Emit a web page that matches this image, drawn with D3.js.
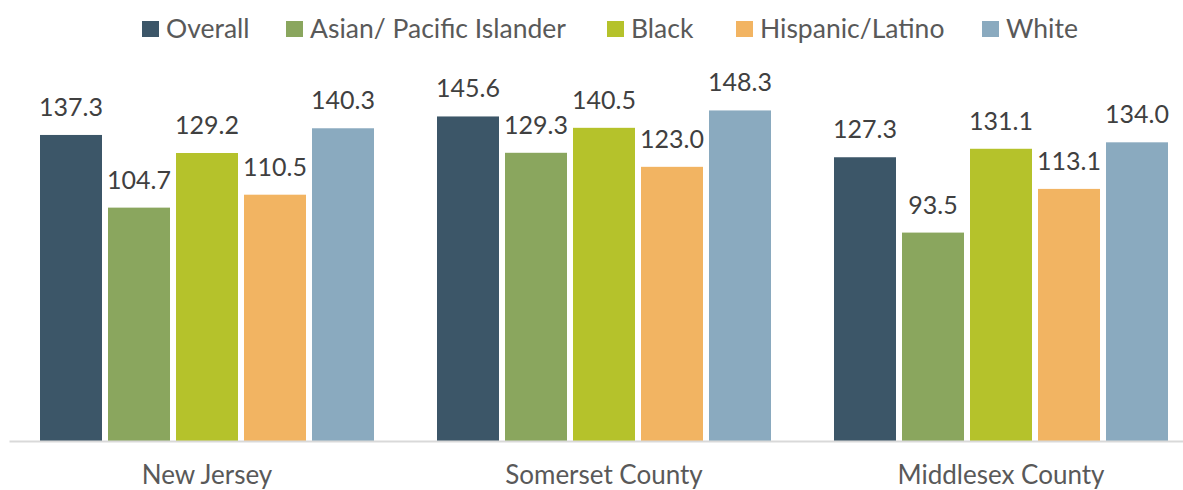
<!DOCTYPE html>
<html>
<head>
<meta charset="utf-8">
<script src="https://cdn.jsdelivr.net/npm/d3@7"></script>
<style>
  html, body { margin: 0; padding: 0; background: #ffffff; }
  svg { display: block; font-family: Lato, "Open Sans", sans-serif; }
</style>
</head>
<body>
<svg id="chart" width="1183" height="490"></svg>
<script>
const categories = ["New Jersey", "Somerset County", "Middlesex County"];
const seriesNames = ["Overall", "Asian/ Pacific Islander", "Black", "Hispanic/Latino", "White"];
const overall = [137.3, 145.6, 127.3];
const asianPI = [104.7, 129.3, 93.5];
const black = [129.2, 140.5, 131.1];
const hispanic = [110.5, 123.0, 113.1];
const white = [140.3, 148.3, 134.0];
const colors = ["#3c5668", "#8aa65e", "#b5c22b", "#f2b462", "#8aaabf"];

const seriesValues = [overall, asianPI, black, hispanic, white];

const svg = d3.select("#chart");

// layout
const plotLeft = 9, plotRight = 1199, baseY = 441;
const pxPerUnit = 2.229;
const yMax = 160;

const x0 = d3.scaleBand()
  .domain(categories)
  .range([plotLeft, plotRight])
  .paddingInner(63 / 397)
  .paddingOuter(31 / 397);

const x1 = d3.scaleBand()
  .domain(seriesNames)
  .range([0, x0.bandwidth()])
  .paddingInner(6 / 68)
  .paddingOuter(0);

const y = d3.scaleLinear()
  .domain([0, yMax])
  .range([baseY, baseY - yMax * pxPerUnit]);

// bars
const groups = svg.append("g").selectAll("g")
  .data(categories)
  .join("g")
  .attr("transform", d => `translate(${x0(d)},0)`);

groups.selectAll("rect")
  .data((c, ci) => seriesNames.map((s, si) => ({ s, si, v: seriesValues[si][ci] })))
  .join("rect")
  .attr("x", d => x1(d.s))
  .attr("y", d => y(d.v))
  .attr("width", x1.bandwidth())
  .attr("height", d => y(0) - y(d.v))
  .attr("fill", d => colors[d.si]);

groups.selectAll("text.val")
  .data((c, ci) => seriesNames.map((s, si) => ({ s, si, v: seriesValues[si][ci] })))
  .join("text")
  .attr("class", "val")
  .attr("x", d => x1(d.s) + x1.bandwidth() / 2)
  .attr("y", d => y(d.v) - 19)
  .attr("text-anchor", "middle")
  .attr("font-size", 25)
  .attr("fill", "#404040")
  .text(d => d.v.toFixed(1));

// axis line
const xAxis = d3.axisBottom(x0).tickSize(0).tickPadding(0);
const axisG = svg.append("g")
  .attr("transform", `translate(0,${baseY})`)
  .call(xAxis);
axisG.select(".domain").attr("stroke", "#d9d9d9").attr("stroke-width", 2);
axisG.selectAll(".tick text")
  .attr("font-family", "Lato, 'Open Sans', sans-serif")
  .attr("font-size", 26)
  .attr("fill", "#595959")
  .attr("dy", null)
  .attr("y", 43);

// legend
const legendX = [142, 286, 607, 736, 982];
const legend = svg.append("g");
seriesNames.forEach((s, i) => {
  const g = legend.append("g").attr("transform", `translate(${legendX[i]},0)`);
  g.append("rect").attr("x", 0).attr("y", 21).attr("width", 17).attr("height", 16).attr("fill", colors[i]);
  g.append("text").attr("x", 24).attr("y", 38).attr("font-size", 26.5).attr("fill", "#595959").text(s);
});
</script>
</body>
</html>
